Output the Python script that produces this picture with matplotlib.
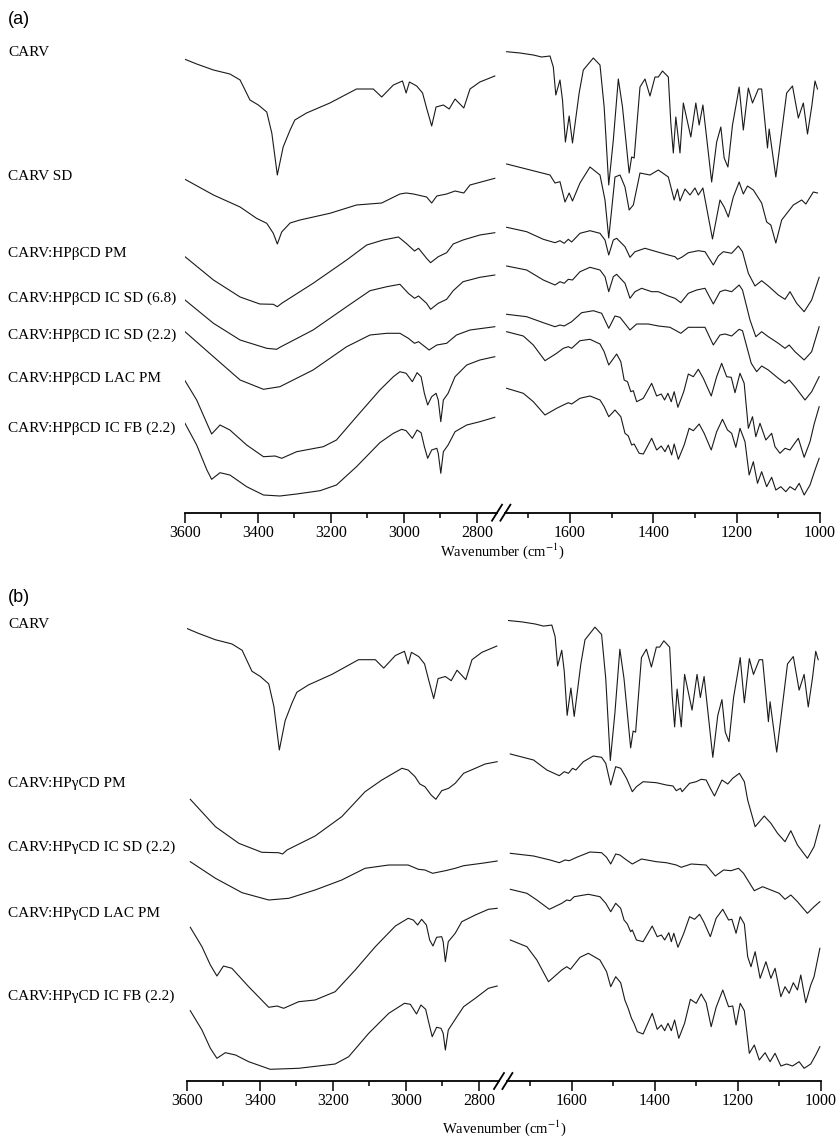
import numpy as np
import matplotlib
matplotlib.use("Agg")
import matplotlib.pyplot as plt
from matplotlib.lines import Line2D
from matplotlib.ticker import MultipleLocator

plt.rcParams['font.family'] = ['Liberation Serif', 'DejaVu Serif']
plt.rcParams['mathtext.fontset'] = 'stix'

# ---------------------------------------------------------------
# Spectra: (wavenumber cm-1, offset transmittance a.u.)
# hi = 3600-2750 region, lo = 1750-1000 region
# ---------------------------------------------------------------
carv_hi = [(3600, 450.7), (3568, 446), (3522, 440), (3477, 436), (3449, 430), (3422, 410),
           (3399, 405), (3376, 398), (3362, 376.7), (3347, 335), (3331, 363), (3312, 380),
           (3299, 390), (3267, 397), (3203, 407), (3130, 421), (3084, 421), (3061, 413),
           (3029, 425), (3004, 429), (2994, 417), (2985, 428), (2965, 424), (2949, 417),
           (2938, 402), (2924, 384), (2912, 403), (2892, 405), (2876, 401), (2860, 411),
           (2836, 402), (2819, 421), (2792, 428), (2751, 434)]
carv_lo = [(1752, 458.3), (1720, 457), (1688, 455), (1668, 453), (1648, 454), (1640, 443),
           (1634, 415), (1624, 430), (1618, 410), (1611, 368), (1602, 394), (1594, 367),
           (1578, 417), (1568, 440), (1544, 452), (1528, 445), (1518, 403), (1507, 325),
           (1496, 370), (1484, 431), (1474, 403), (1466, 370), (1458, 337), (1452, 353),
           (1446, 352), (1432, 423), (1420, 431), (1408, 414), (1396, 433), (1388, 433),
           (1378, 439), (1364, 433), (1358, 387), (1352, 357), (1346, 393), (1336, 357),
           (1328, 407), (1310, 373), (1298, 407), (1290, 385), (1281, 405), (1260, 328),
           (1248, 368), (1238, 383), (1230, 352), (1221, 343), (1210, 385), (1198, 413),
           (1194, 423), (1184, 380), (1172, 422), (1162, 407), (1148, 421), (1140, 421),
           (1126, 362), (1122, 381), (1106, 333), (1080, 417), (1066, 424), (1052, 392),
           (1040, 407), (1030, 376), (1020, 403), (1012, 429), (1006, 421)]

carv_sd_hi = [(3600, 330.7), (3522, 315), (3449, 303), (3404, 291.7), (3376, 286.7),
              (3358, 276.7), (3347, 266), (3335, 278), (3312, 287), (3285, 290), (3203, 296.7),
              (3130, 305), (3061, 307), (3011, 316), (2994, 317), (2974, 316), (2938, 313),
              (2924, 307), (2910, 314), (2883, 316), (2860, 319), (2836, 317), (2819, 325),
              (2751, 331.7)]
carv_sd_lo = [(1752, 346), (1648, 335), (1636, 327), (1624, 328.3), (1612, 308), (1602, 317),
              (1594, 309), (1576, 327), (1552, 343), (1528, 335), (1516, 310), (1507, 272),
              (1492, 333), (1480, 335), (1468, 323), (1458, 300), (1448, 305), (1432, 337),
              (1408, 335), (1388, 340), (1364, 333), (1356, 320), (1350, 310), (1342, 321),
              (1336, 309), (1324, 321), (1312, 315), (1300, 322), (1292, 315), (1281, 322),
              (1258, 271), (1240, 310), (1230, 303), (1220, 293), (1208, 313), (1194, 328),
              (1184, 316), (1174, 324), (1160, 320), (1140, 307), (1128, 288), (1118, 285),
              (1106, 267), (1092, 290), (1064, 305), (1044, 310), (1034, 306), (1016, 318),
              (1006, 317)]

bpm_hi = [(3600, 253.3), (3522, 230), (3449, 213), (3395, 206), (3358, 205.7), (3347, 203.3),
          (3335, 206.7), (3249, 226.7), (3157, 250), (3102, 265), (3057, 270), (3015, 273),
          (2994, 266.7), (2971, 259), (2960, 261.7), (2938, 251.7), (2927, 247.3), (2906, 253.3),
          (2883, 257.3), (2865, 266), (2838, 270), (2792, 275), (2751, 277.3)]
bpm_lo = [(1752, 282.7), (1704, 278.3), (1664, 270.7), (1636, 267.3), (1624, 269.3),
          (1614, 266.7), (1604, 270.7), (1596, 268), (1576, 276.7), (1552, 279.3), (1528, 276.7),
          (1516, 270), (1507, 255), (1496, 270), (1488, 271.7), (1468, 263.3), (1456, 252.7),
          (1444, 258.3), (1420, 261.7), (1392, 258.3), (1364, 255), (1348, 253.3), (1342, 250.7),
          (1332, 252.7), (1316, 257.3), (1292, 259.3), (1276, 258.3), (1256, 245), (1244, 254),
          (1232, 258.3), (1212, 256.7), (1196, 264), (1186, 258.3), (1172, 236.7), (1156, 224),
          (1140, 229.3), (1124, 224), (1100, 215), (1084, 210.7), (1072, 218.3), (1056, 206.7),
          (1038, 198.3), (1020, 210), (1002, 232.7)]

bsd68_hi = [(3600, 210), (3522, 186.7), (3449, 170), (3376, 161.7), (3349, 160.7), (3340, 162.7),
            (3249, 180), (3157, 203.3), (3093, 219.3), (3047, 223.3), (3011, 225.7), (2988, 216.7),
            (2971, 211.7), (2960, 214), (2938, 206.7), (2927, 200.7), (2906, 206.7), (2883, 210.7),
            (2865, 219.3), (2838, 228.3), (2792, 232.7), (2751, 235)]
bsd68_lo = [(1752, 244), (1704, 240), (1664, 230), (1636, 225), (1624, 228.3), (1614, 226.7),
            (1604, 230.7), (1594, 230), (1576, 238.3), (1552, 242.7), (1528, 240), (1516, 233.3),
            (1507, 218.3), (1496, 233.3), (1488, 235.7), (1468, 226.7), (1456, 211.7), (1444, 218.3),
            (1428, 221.7), (1404, 218.3), (1388, 218.3), (1364, 214), (1348, 211.7), (1334, 207.3),
            (1316, 216.7), (1296, 220), (1276, 221.7), (1256, 206), (1240, 218.3), (1228, 220),
            (1212, 218.3), (1194, 225), (1186, 220), (1168, 190), (1154, 173.3), (1140, 178.3),
            (1124, 173.3), (1100, 166.7), (1084, 161.7), (1074, 165), (1060, 158.3), (1038, 150),
            (1020, 158.3), (1002, 183.3)]

bsd22_hi = [(3600, 178.3), (3522, 153.3), (3449, 130), (3385, 120.7), (3340, 123.3), (3249, 140),
            (3157, 163.3), (3093, 175), (3047, 176.7), (3011, 176.7), (2988, 171.7), (2971, 166.7),
            (2960, 168.3), (2931, 160), (2910, 165), (2883, 166.7), (2856, 175), (2819, 180),
            (2751, 183.3)]
bsd22_lo = [(1752, 195.7), (1704, 193.3), (1664, 187.3), (1636, 183.3), (1624, 185), (1614, 184),
            (1596, 188.3), (1572, 197.3), (1544, 199.3), (1524, 196.7), (1507, 181.7), (1492, 194),
            (1480, 192.7), (1456, 180), (1440, 186), (1412, 186), (1388, 184), (1360, 182.7),
            (1334, 176.7), (1316, 182.7), (1276, 182.7), (1256, 165), (1240, 175), (1228, 176),
            (1212, 174), (1194, 180.7), (1186, 179.3), (1165, 146.7), (1152, 138.3), (1140, 144),
            (1124, 140), (1100, 131.7), (1084, 126.7), (1074, 130), (1060, 123.3), (1036, 110),
            (1020, 118.3), (1002, 133.3)]

blac_hi = [(3600, 129.3), (3568, 110), (3540, 86.7), (3527, 76), (3504, 85), (3477, 80),
           (3431, 65), (3385, 53.3), (3353, 54), (3335, 51.7), (3294, 58.3), (3221, 63.3),
           (3185, 70), (3130, 93.3), (3066, 120), (3029, 133.3), (3011, 138.3), (2994, 136.7),
           (2977, 128.3), (2964, 137.3), (2953, 133.3), (2944, 116.7), (2935, 105), (2924, 113.3),
           (2912, 116.7), (2906, 110), (2899, 88.3), (2892, 110), (2879, 116.7), (2860, 133.3),
           (2828, 145), (2792, 150), (2751, 153.3)]
blac_lo = [(1752, 178.3), (1712, 174), (1688, 165), (1660, 149.3), (1632, 156.7), (1616, 161.7),
           (1604, 163.3), (1596, 161.7), (1576, 169.3), (1552, 170.7), (1528, 166), (1518, 158.3),
           (1507, 145), (1488, 156), (1478, 148.3), (1470, 130), (1462, 128.3), (1454, 118.3),
           (1448, 119.3), (1440, 108.3), (1424, 111.7), (1404, 126.7), (1392, 114), (1381, 116),
           (1373, 110), (1365, 116.7), (1357, 108.3), (1350, 118.3), (1341, 102.7), (1327, 118.3),
           (1316, 136), (1304, 133.3), (1292, 140.7), (1280, 131.7), (1261, 114), (1248, 133.3),
           (1236, 146.7), (1224, 133.3), (1213, 132.7), (1204, 117.3), (1192, 136.7), (1182, 126.7),
           (1172, 81.7), (1162, 93.3), (1154, 73.3), (1144, 86.7), (1130, 70), (1116, 76.7),
           (1108, 63.3), (1096, 56.7), (1084, 61.7), (1072, 60), (1062, 66), (1052, 71.7),
           (1038, 52.7), (1024, 68.3), (1014, 86), (1002, 103.3)]

bfb_hi = [(3600, 86.7), (3568, 65), (3540, 40), (3527, 30.7), (3504, 37.3), (3477, 35),
          (3431, 23.3), (3385, 15), (3340, 14), (3294, 16), (3230, 19.3), (3185, 25),
          (3130, 43.3), (3066, 67.3), (3029, 76.7), (3006, 80.7), (2994, 79.3), (2977, 71.7),
          (2964, 80), (2953, 77.3), (2944, 63.3), (2935, 51.7), (2924, 60), (2910, 61.7),
          (2906, 56.7), (2899, 36.7), (2892, 58.3), (2879, 65), (2860, 78.3), (2828, 85),
          (2792, 88.3), (2751, 92.7)]
bfb_lo = [(1752, 121.7), (1712, 116.7), (1688, 108.3), (1660, 95), (1632, 101.7), (1616, 105),
          (1604, 107.3), (1596, 106), (1576, 111.7), (1552, 114), (1528, 110), (1518, 103.3),
          (1507, 93.3), (1492, 100), (1478, 93.3), (1468, 76.7), (1460, 74), (1452, 65),
          (1446, 66), (1434, 56.7), (1424, 56), (1404, 71.7), (1392, 60), (1381, 64), (1372, 58.3),
          (1364, 65), (1356, 55), (1350, 66), (1340, 50.7), (1326, 65), (1314, 81.7), (1304, 79.3),
          (1290, 86), (1278, 76.7), (1261, 60), (1248, 78.3), (1234, 90.7), (1222, 80),
          (1212, 76.7), (1202, 62.7), (1192, 81.7), (1180, 68.3), (1170, 35), (1160, 48.3),
          (1150, 26.7), (1140, 38.3), (1128, 23.3), (1116, 32.7), (1106, 20), (1094, 23.3),
          (1082, 18.3), (1072, 23.3), (1060, 20), (1050, 26.7), (1038, 15), (1024, 25),
          (1012, 40), (1002, 51.7)]

gpm_hi = [(3591, 290.7), (3522, 263.3), (3458, 246.7), (3395, 237.7), (3349, 237.3), (3338, 236),
          (3326, 240), (3249, 254), (3176, 273.3), (3112, 298.3), (3066, 310), (3011, 321.7),
          (2994, 320), (2975, 313.3), (2962, 306), (2948, 303.3), (2931, 295), (2918, 290.7),
          (2902, 299.3), (2883, 301.7), (2865, 306.7), (2842, 316.7), (2810, 321.7), (2783, 326),
          (2750, 328.3)]
gpm_lo = [(1748, 336), (1692, 330), (1660, 320), (1630, 314.3), (1618, 318.3), (1608, 316.7),
          (1598, 321.7), (1590, 320), (1572, 328.3), (1548, 334), (1528, 332.7), (1518, 326.7),
          (1506, 305), (1494, 323.3), (1482, 321.7), (1468, 311.7), (1454, 298.3), (1444, 303.3),
          (1428, 308.3), (1396, 307.3), (1372, 305), (1356, 304), (1348, 299.3), (1338, 301.7),
          (1334, 298.3), (1316, 306.7), (1300, 308.3), (1288, 310.7), (1276, 310), (1266, 301.7),
          (1256, 294), (1238, 310), (1224, 306), (1212, 311.7), (1196, 316.7), (1184, 308.3),
          (1176, 290), (1158, 263.3), (1136, 274), (1120, 266.7), (1104, 256.7), (1086, 248.3),
          (1072, 259.3), (1056, 245), (1032, 231.7), (1016, 243.3), (1002, 265)]

gsd22_hi = [(3591, 228.3), (3522, 211.7), (3449, 197.3), (3376, 190), (3321, 191.7), (3249, 200),
            (3176, 210), (3112, 221.7), (3047, 225), (2994, 225), (2966, 220.7), (2948, 220),
            (2927, 216.7), (2892, 219.3), (2865, 221.7), (2842, 224.3), (2792, 226.7), (2750, 229)]
gsd22_lo = [(1748, 236.7), (1692, 234), (1652, 230), (1630, 227.3), (1616, 230), (1606, 229.3),
            (1588, 232.7), (1556, 238), (1528, 237.3), (1516, 232.7), (1506, 226), (1494, 236),
            (1484, 235), (1468, 230), (1454, 226), (1432, 231), (1396, 228.3), (1372, 227.3),
            (1348, 225), (1336, 222.7), (1312, 226), (1276, 225), (1254, 214), (1234, 220),
            (1216, 219.3), (1198, 221.7), (1186, 216.7), (1160, 199.3), (1140, 203.3), (1120, 200),
            (1100, 196.7), (1086, 190.7), (1072, 195), (1056, 188.3), (1032, 176.7), (1016, 183.3),
            (1002, 188.3)]

glac_hi = [(3591, 162.7), (3559, 143.3), (3536, 125), (3518, 114), (3500, 124), (3477, 121.7),
           (3431, 103.3), (3376, 82.7), (3353, 84), (3335, 81.7), (3294, 88.3), (3249, 90),
           (3194, 98.3), (3139, 120), (3084, 143.3), (3029, 164), (2994, 171.7), (2980, 170),
           (2968, 165), (2957, 170.7), (2944, 165), (2935, 150), (2926, 144), (2916, 152.7),
           (2902, 153.3), (2898, 148.3), (2892, 128.3), (2884, 148.3), (2865, 156.7), (2847, 168.3),
           (2810, 175), (2774, 180.7), (2750, 181.7)]
glac_lo = [(1748, 200.7), (1708, 196.7), (1684, 190), (1654, 180.7), (1624, 186.7), (1612, 190),
           (1604, 189.3), (1594, 193.3), (1560, 195.7), (1532, 193.3), (1518, 186.7), (1506, 178.3),
           (1494, 186.7), (1482, 181.7), (1474, 170), (1466, 166), (1458, 158.3), (1454, 160),
           (1444, 150), (1428, 148.3), (1406, 164), (1394, 153.3), (1384, 155), (1376, 150),
           (1366, 157.3), (1360, 148.3), (1354, 156.7), (1344, 142.7), (1330, 156.7), (1316, 173.3),
           (1304, 170.7), (1292, 175.7), (1282, 168.3), (1266, 153.3), (1252, 171.7), (1236, 180.7),
           (1222, 170), (1214, 170.7), (1204, 156.7), (1194, 173.3), (1184, 166), (1176, 133.3),
           (1168, 123.3), (1158, 138.3), (1146, 111.7), (1132, 128.3), (1120, 111.7), (1110, 121.7),
           (1096, 93.3), (1086, 103.3), (1076, 96.7), (1066, 107.3), (1056, 100), (1048, 115),
           (1036, 87.3), (1024, 105), (1016, 113.3), (1002, 141.7)]

gfb_hi = [(3591, 79.3), (3559, 60), (3536, 41.7), (3518, 31.7), (3495, 37.3), (3467, 35),
          (3431, 28.3), (3372, 20.7), (3294, 21.7), (3194, 26), (3157, 33.3), (3102, 56.7),
          (3047, 76.7), (3004, 86.7), (2988, 85.7), (2971, 76), (2959, 85), (2946, 80.7),
          (2937, 66.7), (2928, 53.3), (2916, 62.7), (2904, 61.7), (2898, 56.7), (2892, 40),
          (2884, 60), (2865, 70.7), (2842, 83.3), (2810, 91.7), (2774, 101.7), (2750, 104)]
gfb_lo = [(1748, 150), (1708, 143.3), (1684, 130), (1656, 108.3), (1624, 120), (1612, 123.3),
          (1603, 120.7), (1580, 132.7), (1560, 136.7), (1532, 130), (1516, 118.3), (1506, 103.3),
          (1494, 113.3), (1482, 107.3), (1472, 90), (1464, 81.7), (1456, 71.7), (1450, 66.7),
          (1442, 58.3), (1428, 56), (1406, 76.7), (1394, 60.7), (1384, 65), (1376, 59.3),
          (1368, 66.7), (1360, 59.3), (1352, 70), (1342, 51.7), (1328, 66.7), (1314, 90.7),
          (1300, 86.7), (1288, 96), (1276, 87.3), (1264, 63.3), (1252, 82.7), (1236, 100),
          (1222, 83.3), (1212, 84), (1204, 65), (1194, 86.7), (1184, 79.3), (1172, 36.7),
          (1160, 45), (1148, 30), (1134, 37.3), (1122, 28.3), (1110, 36.7), (1096, 24),
          (1082, 26), (1068, 24), (1052, 28.3), (1040, 21.7), (1024, 26), (1012, 35), (1002, 43.3)]

labels_a = ['CARV', 'CARV SD', 'CARV:HPβCD PM', 'CARV:HPβCD IC SD (6.8)',
            'CARV:HPβCD IC SD (2.2)', 'CARV:HPβCD LAC PM', 'CARV:HPβCD IC FB (2.2)']
labels_b = ['CARV', 'CARV:HPγCD PM', 'CARV:HPγCD IC SD (2.2)',
            'CARV:HPγCD LAC PM', 'CARV:HPγCD IC FB (2.2)']
label_y_a = [52, 176, 254, 298, 335, 379, 428]          # figure pixel rows
label_y_b = [624, 784, 847, 913, 996]

# CARV in panel (b) is the same spectrum, drawn a little taller
carv_b_hi = [(w, 466 + 1.05 * (t - 455)) for w, t in carv_hi]
carv_b_lo = [(w, 466 + 1.05 * (t - 455)) for w, t in carv_lo]

spectra_a = [(carv_hi, carv_lo), (carv_sd_hi, carv_sd_lo), (bpm_hi, bpm_lo),
             (bsd68_hi, bsd68_lo), (bsd22_hi, bsd22_lo), (blac_hi, blac_lo), (bfb_hi, bfb_lo)]
spectra_b = [(carv_b_hi, carv_b_lo), (gpm_hi, gpm_lo), (gsd22_hi, gsd22_lo),
             (glac_hi, glac_lo), (gfb_hi, gfb_lo)]

W, H = 836, 1137
fig = plt.figure(figsize=(W / 100, H / 100), dpi=100)


def px_rect(x0, x1, ytop, ybot):
    return [x0 / W, 1 - ybot / H, (x1 - x0) / W, (ybot - ytop) / H]


def style_axis(ax, major, minor):
    for s in ['top', 'left', 'right']:
        ax.spines[s].set_visible(False)
    ax.spines['bottom'].set_linewidth(1.3)
    ax.set_yticks([])
    ax.xaxis.set_major_locator(MultipleLocator(major))
    ax.xaxis.set_minor_locator(MultipleLocator(minor))
    ax.tick_params(axis='x', which='major', direction='out', length=7, width=1.1,
                   labelsize=11.5, pad=1.5)
    ax.tick_params(axis='x', which='minor', direction='out', length=3.5, width=1.1)
    ax.patch.set_alpha(0)


def draw_panel(spectra, labels, label_ys, tag, tag_y, geom):
    xl0, xl1, xr0, xr1, ytop, ybot, ylo, yhi, xlab_y = geom
    axl = fig.add_axes(px_rect(xl0, xl1, ytop, ybot))
    axr = fig.add_axes(px_rect(xr0, xr1, ytop, ybot))
    for hi, lo in spectra:
        w, t = zip(*hi)
        axl.plot(w, t, color='#1a1a1a', lw=0.8, solid_joinstyle='round')
        w, t = zip(*lo)
        axr.plot(w, t, color='#1a1a1a', lw=0.8, solid_joinstyle='round')
    axl.set_xlim(3600, 2745)
    axr.set_xlim(1755, 1000)
    for ax in (axl, axr):
        ax.set_ylim(ylo, yhi)
    style_axis(axl, 200, 100)
    style_axis(axr, 200, 100)
    axl.set_xticks([3600, 3400, 3200, 3000, 2800])
    axr.set_xticks([1600, 1400, 1200, 1000])

    # break marks "//"
    for xb in (xl1, xr0):
        fig.add_artist(Line2D([(xb - 5) / W, (xb + 5) / W],
                              [1 - (ybot + 8) / H, 1 - (ybot - 8) / H],
                              color='black', lw=1.3))

    fig.text(8 / W, 1 - tag_y / H, tag, family='Liberation Sans', fontsize=13,
             va='center', ha='left')
    for lab, yy in zip(labels, label_ys):
        fig.text(8 / W, 1 - yy / H, lab, fontsize=11, va='center', ha='left')
    fig.text(((xl0 + xr1) / 2) / W, 1 - xlab_y / H, 'Wavenumber (cm$^{-1}$)',
             fontsize=10.5, va='center', ha='center')


draw_panel(spectra_a, labels_a, label_y_a, '(a)', 20,
           (185, 497, 505.4, 820, 40, 512.7, -2.7, 470, 551))
draw_panel(spectra_b, labels_b, label_y_b, '(b)', 597,
           (187, 499, 507.4, 820.7, 600, 1081, 9, 490, 1128))

fig.savefig('out.png', dpi=100)
